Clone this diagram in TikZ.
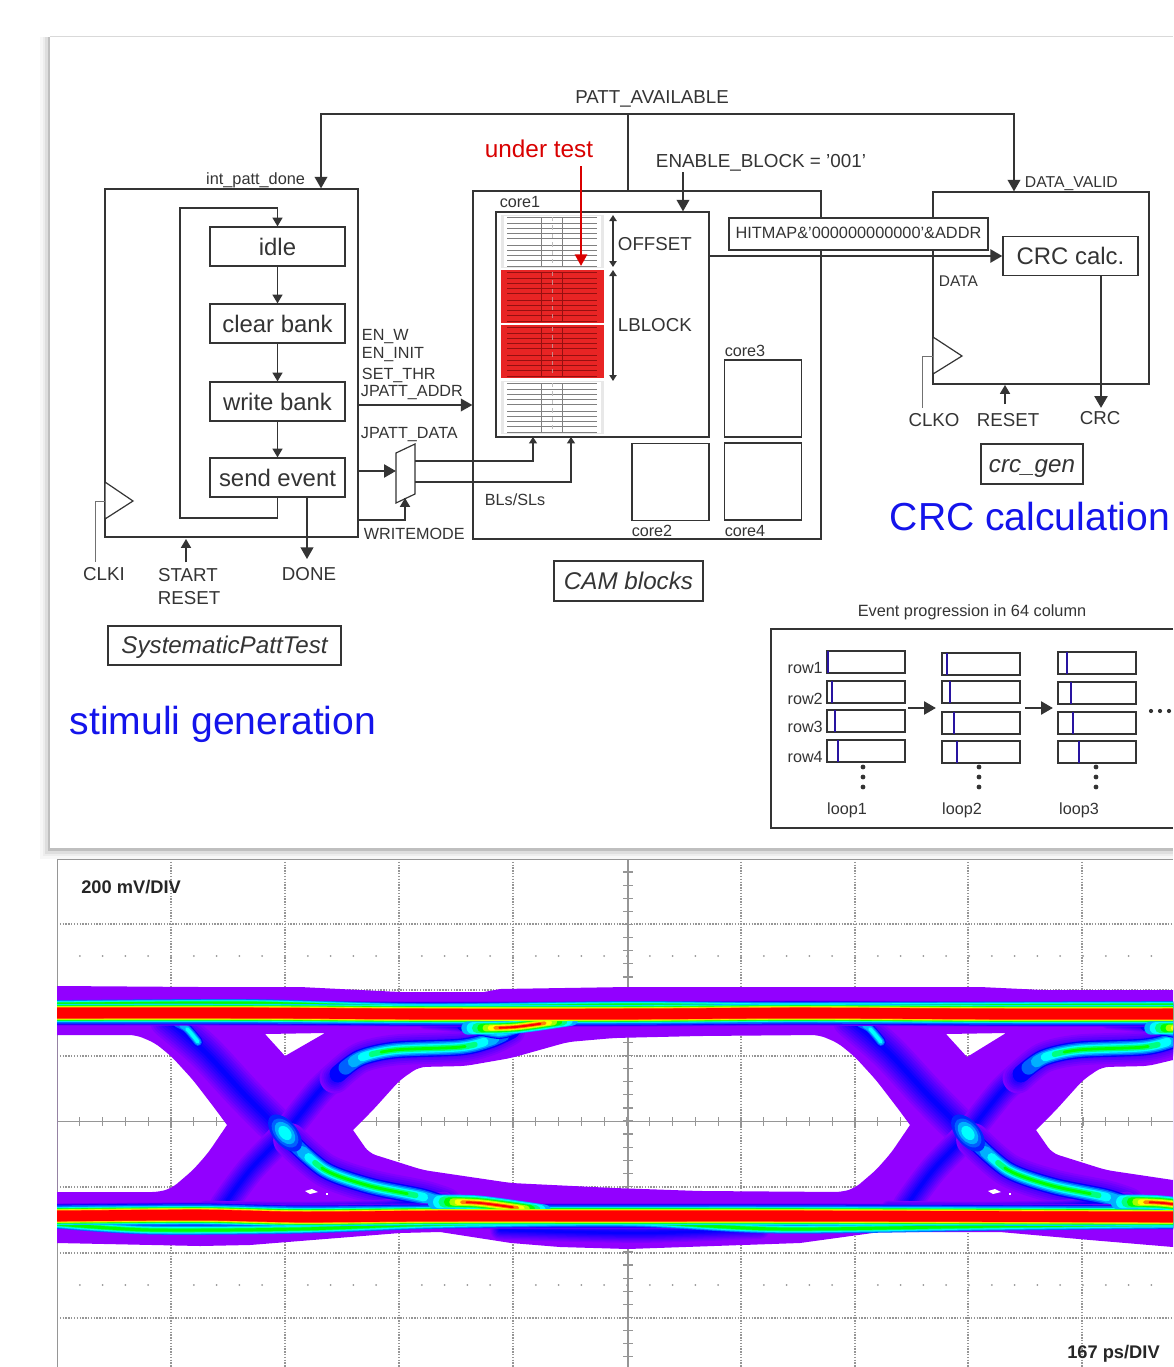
\documentclass[tikz,border=0pt]{standalone}
\usepackage{fontspec}
\setmainfont{Liberation Sans}
\usetikzlibrary{arrows.meta,calc,positioning}
\definecolor{ink}{RGB}{52,52,52}
\definecolor{redblock}{RGB}{232,36,36}
\definecolor{redline}{RGB}{150,16,16}
\definecolor{labelblue}{RGB}{20,20,235}
\definecolor{barblue}{RGB}{40,20,160}
\definecolor{gridgray}{RGB}{150,150,150}
\definecolor{eyeviolet}{RGB}{146,0,255}
\definecolor{sa}{RGB}{112,0,255}
\definecolor{sb}{RGB}{64,0,255}
\definecolor{sc}{RGB}{0,0,255}
\definecolor{sd}{RGB}{0,96,255}
\definecolor{se}{RGB}{0,176,255}
\definecolor{sf}{RGB}{0,255,255}
\definecolor{sg}{RGB}{0,255,128}
\definecolor{sh}{RGB}{0,255,0}
\definecolor{si}{RGB}{160,255,0}
\definecolor{sj}{RGB}{255,255,0}
\definecolor{sk}{RGB}{255,128,0}
\definecolor{sl}{RGB}{255,0,0}
% Colour stops of the density traces.
\def\railouter{11/sa,10/sb,9/sc,8/sd}
\def\railmiddle{7/se,6/sf,5/sg,4/sh}
\def\railcore{3/si,2/sj,1/sk,0/sl}
\def\fringestops{5/sd,4/se,3/sf,2/sg,1/sh,0/sh}
\def\greentaper{0/sc,1/sd,2/se,3/sf,4/sg,5/sh}
\def\cyantaper{0/sc,1/sd,2/se,3/sf}
\def\warmtaper{0/se,1/sf,2/sg,3/sh,4/si,5/sj,6/sk,7/sl}
\newcommand{\bandstack}[4]{%
  \foreach \bandk/\bandcol in #3 {
    \draw[line width=#1pt+\bandk*#2pt, draw=\bandcol, line cap=round]
      plot[smooth] coordinates {#4};
  }}
% Violet to blue haze round a trace.
\newcommand{\hazestack}[2]{%
  \foreach \hz [evaluate=\hz as \hzmix using int(\hz*12)] in {1,...,8} {
    \draw[line width=#1pt*(9-\hz)/8, draw=sc!\hzmix!eyeviolet, line cap=round]
      plot[smooth] coordinates {#2};
  }}
% Band that narrows and shortens stop by stop: outer width, step, stops, length, trim, points.
\newcommand{\taperstack}[6]{%
  \foreach \bandk/\bandcol in #3 {
    \pgfmathsetmacro{\tapertrim}{\bandk*#5}
    \pgfmathsetmacro{\tapershow}{#4-2*\tapertrim}
    \pgfmathsetmacro{\taperphase}{2000+\tapershow-\tapertrim}
    \draw[line width=#1pt-\bandk*#2pt, draw=\bandcol, line cap=round,
          dash pattern=on \tapershow pt off 2000pt, dash phase=\taperphase pt]
      plot[smooth] coordinates {#6};
  }}

\begin{document}
\begin{tikzpicture}[
  x=0.025cm,y=-0.025cm,
  font=\fontsize{11.5}{13}\selectfont,
  text=ink,
  wire/.style={draw=ink, line width=0.85pt},
  flow/.style={-{Triangle[length=2.9mm,width=3.2mm]}, draw=ink,
               line width=1pt},
  flowsmall/.style={-{Triangle[length=2.2mm,width=2.5mm]}, draw=ink,
                    line width=1pt},
  flowthick/.style={-{Triangle[length=3mm,width=3.2mm]}, draw=ink,
                    line width=2.1pt},
  both/.style={{Triangle[length=1.5mm,width=1.8mm]}-{Triangle[length=1.5mm,width=1.8mm]},
               draw=ink, line width=1.1pt},
  block/.style={draw=ink, fill=white, line width=0.85pt, inner sep=0pt},
  fsmbox/.style={block, minimum width=3.375cm, minimum height=0.975cm,
                 font=\fontsize{17}{20}\selectfont},
  corebox/.style={block, minimum width=1.925cm, minimum height=1.925cm},
  namebox/.style={block, minimum height=1cm, text height=12pt, text depth=0pt,
                  font=\fontsize{17.2}{20}\selectfont\itshape},
  midtext/.style={font=\fontsize{13.3}{15}\selectfont},
  headline/.style={font=\fontsize{27.8}{32}\selectfont, text=labelblue},
  grid line/.style={draw=gridgray, dash pattern=on 1pt off 1pt, line width=0.85pt},
  axis line/.style={draw=gridgray, line width=1.2pt},
  scopetext/.style={font=\fontsize{13}{15}\selectfont\bfseries, text=black!85}
]
\useasboundingbox (0,0) rectangle (1173,1367);

% Card behind the block diagram, with a soft edge.
\foreach \w/\shade in {14/gray!6,10/gray!14,7/gray!26,3.5/gray!50}{
  \draw[\shade, line width=\w pt] (50,37) -- (50,849) -- (1173,849);
}
\draw[gray!30, line width=1.5pt] (50,37) -- (1173,37);
\fill[white] (50,37) rectangle (1173,848);

% Stimuli generator.
\node[block, minimum width=6.325cm, minimum height=8.7cm] (pattblock) at (231.5,363) {};
\draw[wire, fill=white] (105,482) -- (133,501) -- (105,519) -- cycle;
\node[fsmbox] (idle) at (277.5,246.5) {idle};
\node[fsmbox] (clearbank) at (277.5,323.5) {clear bank};
\node[fsmbox] (writebank) at (277.5,401.5) {write bank};
\node[fsmbox] (sendevent) at (277.5,477.5) {send event};
\draw[flowsmall] (idle) -- (clearbank);
\draw[flowsmall] (clearbank) -- (writebank);
\draw[flowsmall] (writebank) -- (sendevent);
\coordinate (looptop) at (180,208);
\coordinate (loopbot) at (180,518);
\draw[flowsmall] (sendevent.south) |- (loopbot) -- (looptop) -| (idle.north);

\node[anchor=east, font=\fontsize{11.6}{14}\selectfont] (pattdone) at (310,180) {int\_patt\_done};
\node[midtext] (clki) at (104,574) {CLKI};
\node[midtext] (start) at (188,575) {START};
\node[midtext] (resetl) at (189,598) {RESET};
\node[midtext] (done) at (309,574) {DONE};
\coordinate (clkicorner) at (95,501);
\draw[draw=ink!70, line width=0.7pt] (105,501) -- (clkicorner) -- (clkicorner |- clki.north);
\draw[flowsmall] (start.north -| 186,0) ++(0,-1) -- (186,539);
\draw[flow] (sendevent.south -| done) ++(-2,0) -- (307,559);
\node[namebox, minimum width=5.825cm, minimum height=0.975cm] (systematic) at (224.5,645.5) {SystematicPattTest};
\node[headline] (stimuli) at (223,724) {stimuli generation};

% CAM blocks under test.
\node[block, minimum width=8.7cm, minimum height=8.7cm] (camblock) at (647,365) {};
\node[block, minimum width=5.325cm, minimum height=5.625cm] (core1) at (602.5,324.5) {};
\node[corebox] (core3) at (763,398.5) {};
\node[corebox] (core2) at (670.5,482) {};
\node[corebox] (core4) at (763,481.5) {};
\node (core1label) at (520,202) {core1};
\node (core3label) at (745,351) {core3};
\node (core2label) at (652,531) {core2};
\node (core4label) at (745,531) {core4};

% Memory array, two blocks stay grey and two are lit.
\foreach \blky/\blkfill/\blkline/\blkgap in {215/gray!18/gray/white,270/redblock/redline/redblock,325/redblock/redline/redblock,381/gray!18/gray/white}{
  \fill[\blkfill] (501,\blky) rectangle (604,\blky+53);
  \fill[\blkgap] (504,\blky+1) rectangle (601,\blky+52);
  \foreach \rowy in {2,8,13,18,23,30,35,40,45,51}{
    \draw[\blkline, line width=0.65pt] (507,\blky+\rowy) -- (597,\blky+\rowy);
  }
  \draw[\blkline, line width=0.65pt] (541,\blky+2) -- (541,\blky+51);
  \draw[\blkline, line width=0.65pt] (562,\blky+2) -- (562,\blky+51);
  \draw[\blkline!50, line width=0.5pt, dashed] (552,\blky+2) -- (552,\blky+51);
}
\coordinate (offsettop) at (613,215);
\coordinate (offsetbot) at (613,267);
\coordinate (lblocktop) at (613,270);
\coordinate (lblockbot) at (613,381);
\draw[both] (offsettop) -- (offsetbot);
\draw[both] (lblocktop) -- (lblockbot);
\node[midtext, anchor=west] (offset) at (613,244) {OFFSET};
\node[midtext, anchor=west] (lblock) at (613,325) {LBLOCK};
\node[namebox, minimum width=3.725cm] (camname) at (628.5,581) {CAM blocks};

\node[font=\fontsize{17.3}{20}\selectfont, text=red!85!black] (undertest) at (539,149) {under test};
\coordinate (testfrom) at (581,166);
\coordinate (testto) at (581,266);
\draw[-{Triangle[length=2.9mm,width=3mm]}, draw=red!85!black, line width=1.7pt] (testfrom) -- (testto);

\node[anchor=west, font=\fontsize{13.4}{15}\selectfont] (enable) at (651,163) {ENABLE\_BLOCK = '001'};
\coordinate (enablefrom) at (683,172);
\draw[flow] (enablefrom) -- (enablefrom |- core1.north);

% Control signals into the array.
\node[anchor=west] (enw) at (357,337) {EN\_W};
\node[anchor=west] (eninit) at (357,355) {EN\_INIT};
\node[anchor=west] (setthr) at (357,375) {SET\_THR};
\node[anchor=west] (jaddr) at (356,393) {JPATT\_ADDR};
\node[anchor=west] (jdata) at (356,435) {JPATT\_DATA};
\node[anchor=west] (writemode) at (359,534) {WRITEMODE};
\node (blssls) at (515,500) {BLs/SLs};
\coordinate (addrfrom) at (358,405);
\draw[flow] (addrfrom) -- (addrfrom -| camblock.west);

\draw[wire, fill=white] (396,453) -- (415,444) -- (415,494) -- (396,503) -- cycle;
\coordinate (muxin) at (396,471);
\coordinate (muxout1) at (415,461);
\coordinate (muxout2) at (415,482);
\coordinate (muxsel) at (405,498);
\coordinate (selfrom) at (358,520);
\draw[flowthick] (muxin -| pattblock.east) -- (muxin);
\draw[wire] (selfrom) -| (muxsel);
\draw[flowsmall] (405,503) ++(0,17) -- (muxsel);
\coordinate (into1) at (533,437);
\coordinate (into2) at (571,437);
\draw[-{Triangle[length=1.6mm,width=2mm]}, wire] (muxout1) -| (into1);
\draw[-{Triangle[length=1.6mm,width=2mm]}, wire] (muxout2) -| (into2);

% CRC generator.
\node[block, fill=none, minimum width=5.4cm, minimum height=4.8cm] (crcblock) at (1041,288) {};
\draw[wire, fill=white] (933,337) -- (962,356) -- (933,374) -- cycle;
\node[block, minimum width=6.475cm, minimum height=0.8cm, font=\fontsize{11.6}{14}\selectfont, text depth=3pt, text height=9pt] (hitmap) at (858.5,234) {HITMAP\&'000000000000'\&ADDR};
\node[fsmbox] (crccalc) at (1070.5,256) {CRC calc.};
\node[anchor=west, font=\fontsize{11}{13}\selectfont] (datalabel) at (934,281) {DATA};
\node[anchor=west, font=\fontsize{11.2}{13}\selectfont] (datavalid) at (1020,184) {DATA\_VALID};
\node[midtext] (clko) at (934,420) {CLKO};
\node[midtext] (resetr) at (1008,420) {RESET};
\node[midtext] (crcout) at (1100,418) {CRC};
\node[namebox, minimum width=2.55cm] (crcgen) at (1032,464) {crc\_gen};
\node[headline] (crctitle) at (1030,517) {CRC calculation};
\draw[flowthick] (core1.east |- crccalc.west) -- (crccalc.west);
\coordinate (crcfrom) at (1101,275);
\draw[flowthick] (crcfrom) -- (1101,408);
\coordinate (clkocorner) at (922,356);
\draw[draw=ink!70, line width=0.7pt] (933,356) -- (clkocorner) -- (clkocorner |- clko.north);
\draw[flowsmall] (1005,404) -- (1005,385);

% Handshake running across the top.
\node[midtext] (pattavail) at (652,99) {PATT\_AVAILABLE};
\coordinate (pattjoint) at (628,114);
\coordinate (pattleft) at (321,114);
\coordinate (pattright) at (1014,114);
\draw[flow] (pattjoint) -- (pattleft) -- (pattleft |- pattblock.north);
\draw[flow] (pattjoint) -- (pattright) -- (pattright |- crcblock.north);
\draw[wire] (pattjoint) -- (pattjoint |- camblock.north);

% Event progression inset, cut off by the right edge.
\node[font=\fontsize{11.6}{13}\selectfont] (eventtitle) at (972,612) {Event progression in 64 column};
\draw[wire] (1173,629) -- (771,629) -- (771,828) -- (1173,828);
\foreach \rowy/\rowname in {668/row1,699/row2,727/row3,757/row4}{
  \node[anchor=east, inner sep=0pt] (\rowname) at (823,\rowy) {\rowname};
}
\foreach \lx/\rowa/\rowb/\rowc/\rowd/\bara/\barb/\barc/\bard in
  {827/651/681/710/740/828/832/835/838,
   942/653/681/712/741/947/950/954/957,
   1058/652/682/712/741/1067/1071/1073/1079}{
  \foreach \ry/\rbar in {\rowa/\bara,\rowb/\barb,\rowc/\barc,\rowd/\bard}{
    \draw[wire] (\lx,\ry) rectangle (\lx+78,\ry+22);
    \draw[barblue, line width=1.9pt] (\rbar,\ry) -- (\rbar,\ry+22);
  }
}
\foreach \dotx in {863,979,1096}{
  \foreach \doty in {767,777,787}{
    \fill[ink] (\dotx,\doty) circle (2.4);
  }
}
\foreach \dotx in {1151,1160,1169}{
  \fill[ink] (\dotx,711) circle (2.1);
}
\node (loopa) at (847,810) {loop1};
\node (loopb) at (962,810) {loop2};
\node (loopc) at (1079,810) {loop3};
\coordinate (stepa) at (908,708);
\coordinate (stepb) at (936,708);
\coordinate (stepc) at (1025,708);
\coordinate (stepd) at (1053,708);
\draw[flowthick] (stepa) -- (stepb);
\draw[flowthick] (stepc) -- (stepd);

% Eye diagram screen: grid first, the violet cloud hides it.
\begin{scope}
\clip (57,859) rectangle (1173,1367);
\foreach \gx in {171,285,399,513,741,855,968,1082}{
  \draw[grid line] (\gx,859) -- (\gx,1367);
}
\foreach \gy in {924,990,1056,1187,1253,1318}{
  \draw[grid line] (57,\gy) -- (1173,\gy);
}
\draw[axis line] (628,859) -- (628,1367);
\draw[axis line] (57,1121.5) -- (1173,1121.5);
\foreach \tk in {0,...,39}{
  \draw[axis line, line width=0.9pt] (623,859+13.1*\tk) -- (633,859+13.1*\tk);
}
\foreach \tk in {1,...,48}{
  \draw[axis line, line width=0.9pt] (57+22.8*\tk,1117) -- (57+22.8*\tk,1126);
  \fill[gridgray] (57+22.8*\tk,956) circle (1);
  \fill[gridgray] (57+22.8*\tk,1285) circle (1);
}
\draw[gridgray, line width=1.5pt] (57,1367) -- (57,859) -- (1173,859);

\fill[eyeviolet, even odd rule]
  (57,986) -- (200,987) -- (300,987) -- (360,990) -- (400,992) -- (484,992)
  -- (500,989) -- (628,987) -- (760,987) -- (980,987) -- (1043,990) -- (1173,990)
  -- (1173,1247) -- (1090,1240) -- (1000,1232) -- (880,1232) -- (800,1243)
  -- (628,1249) -- (560,1247) -- (511,1243) -- (440,1232) -- (400,1233)
  -- (250,1245) -- (200,1246) -- (57,1243) -- cycle
  % left opening
  [rounded corners=5pt]
  (57,1035) -- (136,1035) -- (155,1043) -- (172,1057) -- (193,1080) -- (216,1110)
  [sharp corners] -- (227,1125) [rounded corners=5pt]
  -- (208,1153) -- (193,1170) -- (172,1188) -- (159,1192) [sharp corners] -- (57,1192) -- cycle
  % centre opening
  (353,1130) [rounded corners=5pt] -- (373,1110) -- (400,1080) -- (419,1067) -- (465,1066) -- (511,1058)
  -- (568,1042) -- (614,1038) -- (700,1036) -- (819,1035) -- (838,1043) -- (855,1057)
  -- (876,1080) -- (899,1110) [sharp corners] -- (910,1125) [rounded corners=5pt]
  -- (891,1153) -- (876,1170) -- (855,1188)
  -- (842,1192) -- (700,1191) -- (614,1188) -- (511,1183) -- (423,1170) -- (369,1153) [sharp corners] -- cycle
  % right opening
  (1036,1130) [rounded corners=5pt] -- (1056,1110) -- (1083,1080) -- (1102,1067) -- (1148,1066) [sharp corners] -- (1173,1060)
  -- (1173,1180) [rounded corners=5pt] -- (1106,1170) -- (1052,1153) [sharp corners] -- cycle
  % small triangles
  (265,1034) -- (325,1033) -- (285,1056) -- cycle
  (946,1034) -- (1006,1033) -- (967,1057) -- cycle;

% One period of the crossing traces, drawn twice.
\foreach \cyc in {0,683}{
\begin{scope}[shift={(\cyc,0)}]
  \hazestack{26}{(168,1020) (205,1052) (245,1095) (285,1135)}
  \hazestack{20}{(224,1205) (250,1170) (285,1133) (320,1090) (346,1067)}
  \hazestack{24}{(290,1140) (325,1170) (370,1186) (423,1197) (445,1204)}
  \hazestack{22}{(335,1078) (360,1058) (395,1050) (461,1047) (490,1040) (510,1030)}
  \hazestack{10}{(425,1022) (470,1027) (498,1034) (512,1030)}
  \hazestack{9}{(205,1207) (300,1208) (380,1206) (420,1201) (445,1198)}
  \hazestack{14}{(500,1230) (640,1233) (760,1229)}
  \taperstack{7}{1.5}{\cyantaper}{36}{4}{(172,1021) (186,1028) (198,1042)}
  \taperstack{12}{2}{\greentaper}{124}{6}{(290,1140) (325,1170) (370,1186) (423,1197) (448,1206)}
  \taperstack{12}{2}{\greentaper}{130}{7}{(338,1074) (360,1058) (395,1050) (461,1047) (490,1040) (512,1030)}
  \taperstack{7}{1.6}{\cyantaper}{45}{4}{(462,1026) (498,1034) (518,1029)}
  % bright spot where both edges cross
  \foreach \ra/\rb/\spot in {22/12/sc!60!sd,17/10/sd,13/8/se,8/5.5/sf}{
    \fill[\spot] (285,1133) [rotate around={-50:(285,1133)}] ellipse (\ra*1 and \rb*1);
  }
\end{scope}
}
% Rails with their fringes; the wedges slide in under the rail core.
\bandstack{7.5}{0.95}{\railouter}{(57,1013) (250,1013) (420,1014) (628,1014) (800,1013) (1000,1014) (1173,1014)}
\bandstack{7.5}{0.95}{\railouter}{(57,1216) (200,1215) (300,1217) (440,1216) (628,1216) (800,1216) (1173,1217)}
\bandstack{1}{0.9}{\fringestops}{(57,1004) (250,1003) (420,1007) (628,1005) (800,1006) (1173,1005)}
\bandstack{1}{1.1}{\fringestops}{(57,1224) (150,1230) (300,1229) (440,1224) (628,1222) (780,1229) (1000,1226) (1173,1224)}
\bandstack{7.5}{0.8}{\railmiddle}{(57,1013) (250,1013) (420,1014) (628,1014) (800,1013) (1000,1014) (1173,1014)}
\bandstack{7.5}{0.8}{\railmiddle}{(57,1216) (200,1215) (300,1217) (440,1216) (628,1216) (800,1216) (1173,1217)}
\foreach \cyc in {0,683}{
\begin{scope}[shift={(\cyc,0)}]
  \taperstack{9.5}{1.15}{\warmtaper}{74}{3.2}{(468,1028) (515,1027) (572,1019)}
  \taperstack{10.5}{1.3}{\warmtaper}{78}{3.2}{(435,1202) (480,1203) (545,1212)}
\end{scope}
}
\bandstack{7.5}{0.8}{\railcore}{(57,1013) (250,1013) (420,1014) (628,1014) (800,1013) (1000,1014) (1173,1014)}
\bandstack{7.5}{0.8}{\railcore}{(57,1216) (200,1215) (300,1217) (440,1216) (628,1216) (800,1216) (1173,1217)}
% Specks of empty screen inside the lower crossing.
\foreach \cyc in {0,683}{
  \fill[white] (305+\cyc,1191) -- (312+\cyc,1189) -- (318+\cyc,1192) -- (310+\cyc,1194) -- cycle;
  \fill[white] (326+\cyc,1193) rectangle (328+\cyc,1195);
}
\end{scope}
\node[scopetext, anchor=west, inner sep=0pt] (vdiv) at (81,887) {200 mV/DIV};
\node[scopetext, anchor=east, inner sep=0pt] (tdiv) at (1160,1354) {167 ps/DIV};
\end{tikzpicture}
\end{document}
